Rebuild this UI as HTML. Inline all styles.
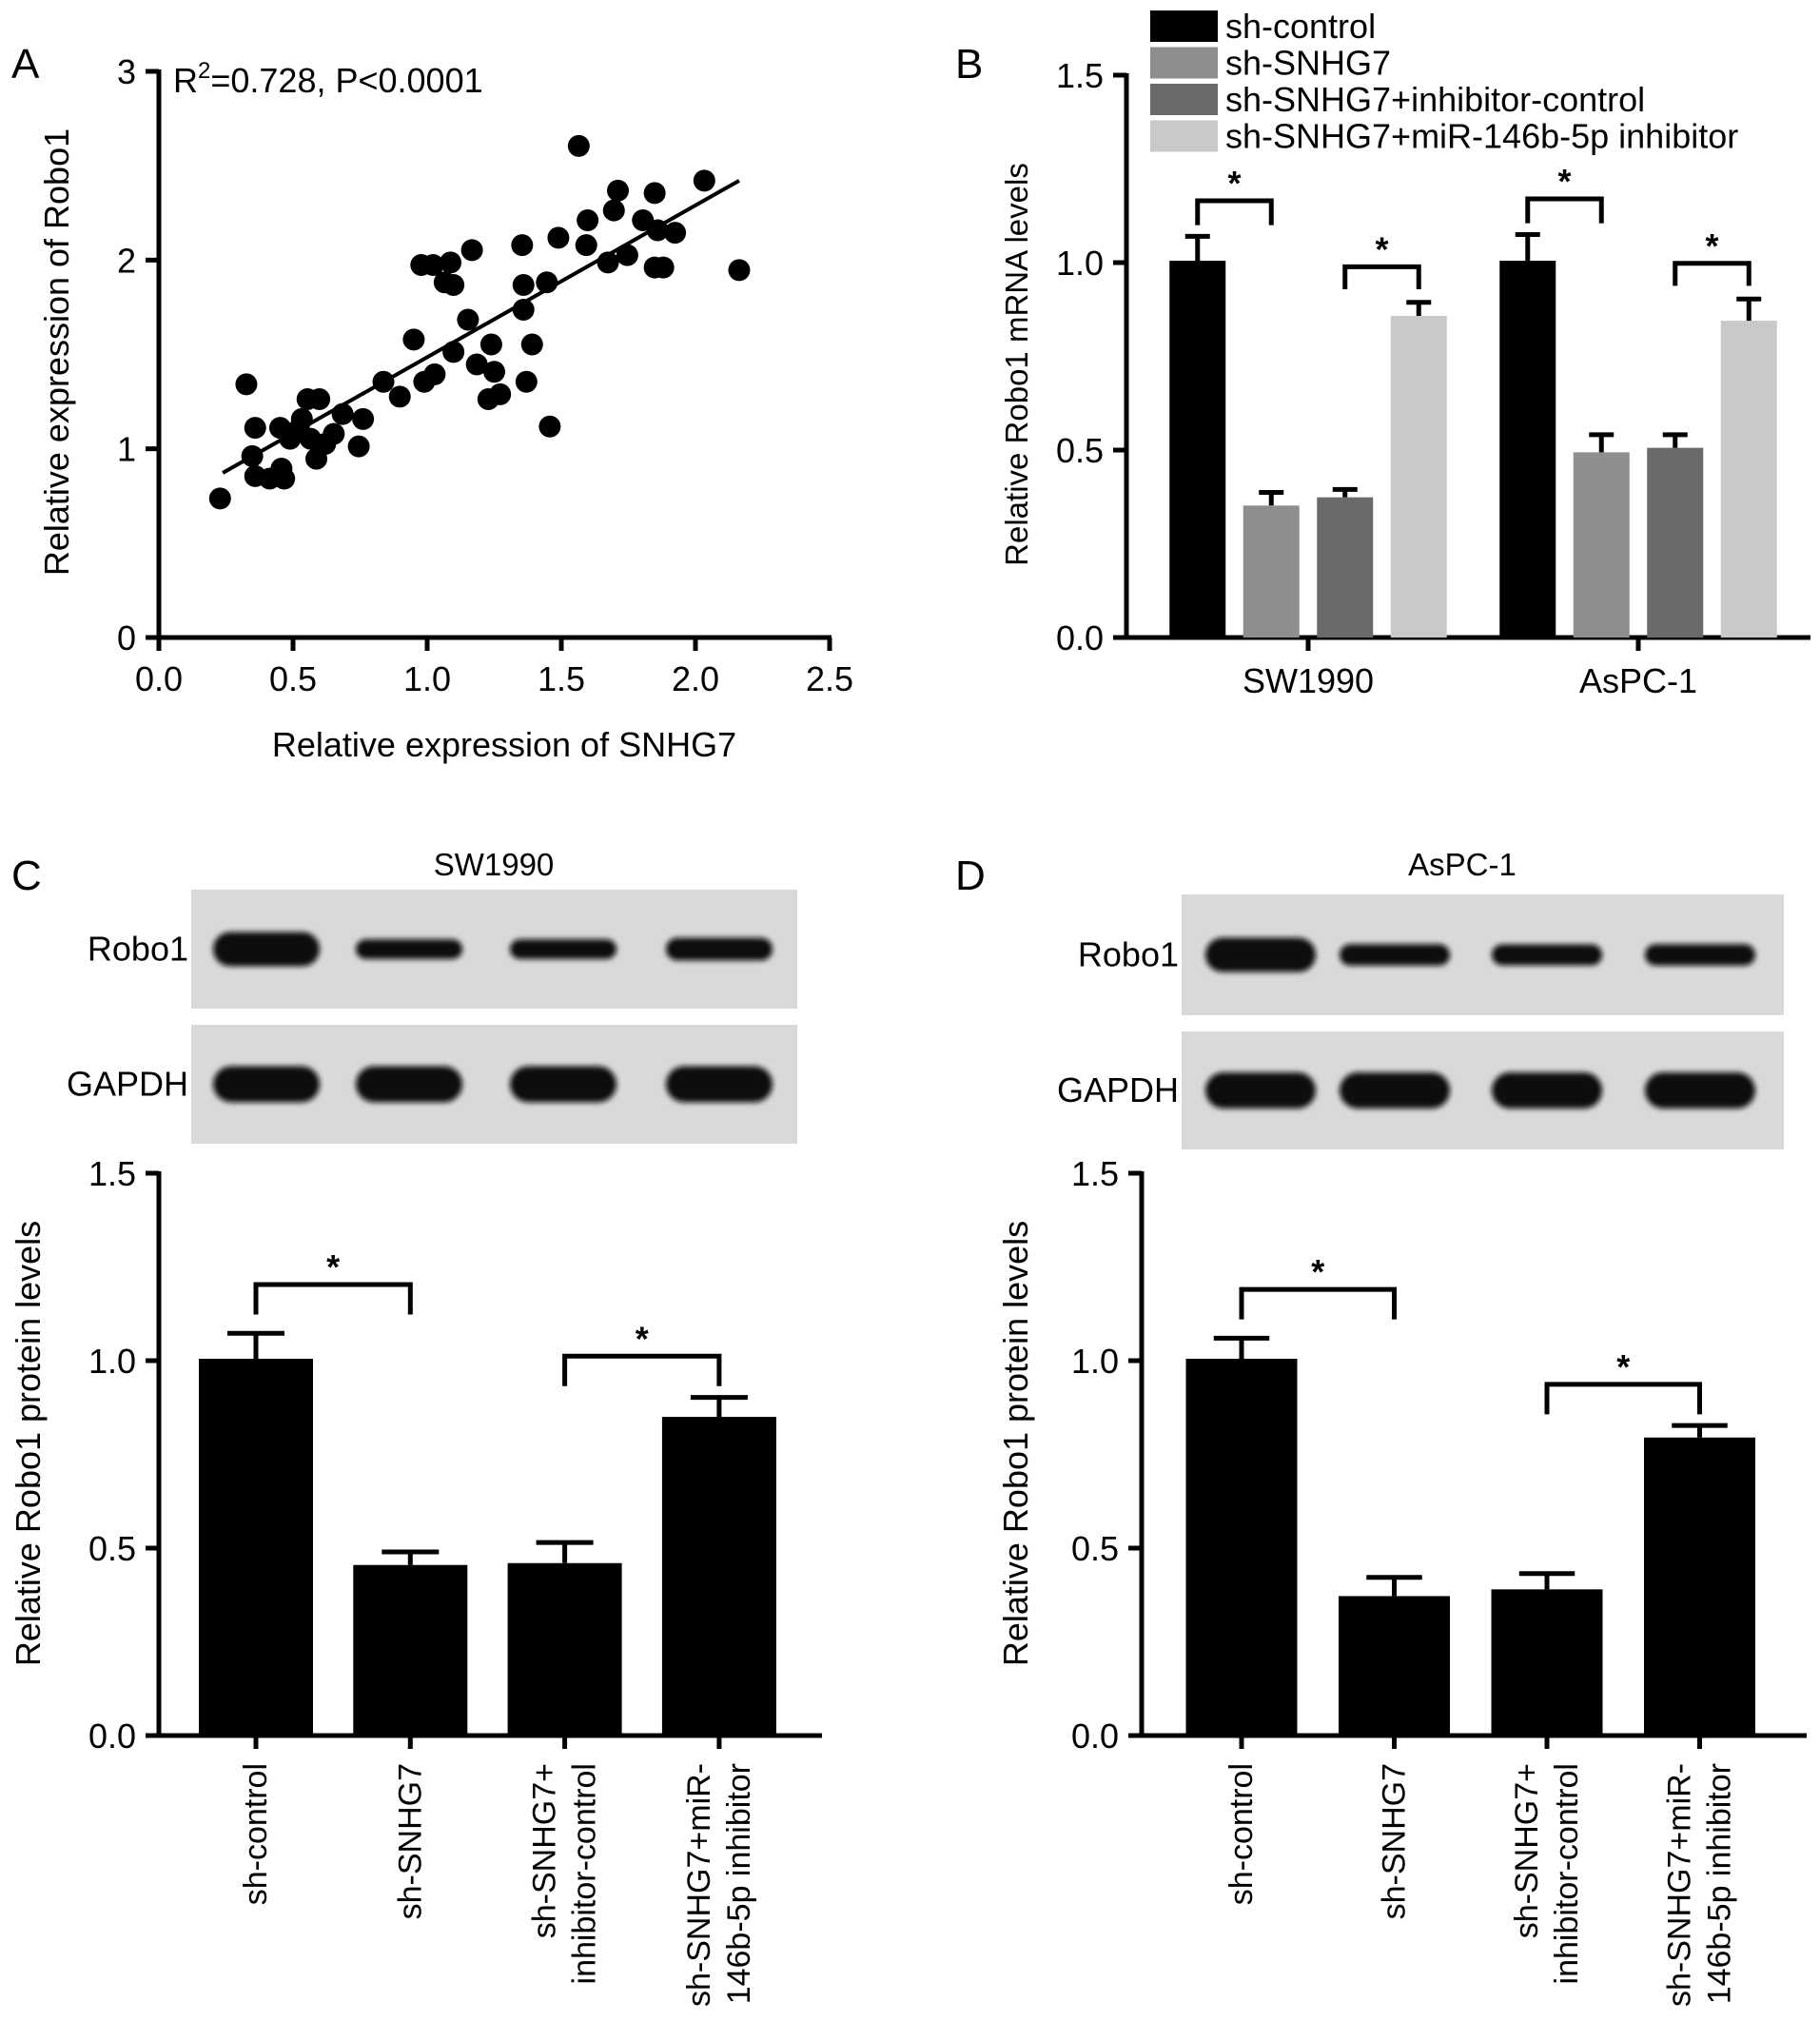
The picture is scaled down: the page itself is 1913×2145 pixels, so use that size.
<!DOCTYPE html>
<html><head><meta charset="utf-8"><style>
html,body{margin:0;padding:0;background:#fff;}
svg{display:block;font-family:"Liberation Sans",Arial,sans-serif;}
</style></head><body>
<svg id="fig" width="1913" height="2145" viewBox="0 0 1913 2145" xmlns="http://www.w3.org/2000/svg">
<defs>
<filter id="blur" x="-20%" y="-50%" width="140%" height="200%"><feGaussianBlur stdDeviation="3"/></filter>
</defs>
<g id="root"></g>
</svg>
<script>
// ---------- Panel A data ----------
const scatterX = [0.228,0.326,0.359,0.348,0.359,0.413,0.467,0.457,0.452,0.489,0.522,0.533,0.554,0.598,0.565,0.587,0.620,0.652,0.685,0.745,0.761,0.837,0.898,0.950,0.978,1.022,0.989,1.028,1.087,1.065,1.098,1.098,1.152,1.167,1.185,1.228,1.250,1.239,1.272,1.354,1.359,1.359,1.370,1.391,1.446,1.457,1.489,1.565,1.598,1.593,1.674,1.696,1.711,1.746,1.804,1.848,1.859,1.848,1.880,1.924,2.033,2.163];
const scatterY = [0.737,1.342,1.111,0.961,0.855,0.842,0.842,0.895,1.111,1.053,1.105,1.158,1.263,1.263,1.053,0.947,1.026,1.079,1.184,1.013,1.158,1.355,1.276,1.579,1.974,1.974,1.355,1.395,1.987,1.882,1.868,1.513,1.684,2.053,1.447,1.263,1.408,1.553,1.289,2.079,1.868,1.737,1.355,1.553,1.882,1.118,2.118,2.605,2.211,2.079,1.987,2.263,2.368,2.026,2.211,2.355,2.158,1.961,1.961,2.145,2.421,1.947];
const aXTicks = [0.0,0.5,1.0,1.5,2.0,2.5];
const aXTickLabels = ["0.0","0.5","1.0","1.5","2.0","2.5"];
const aYTicks = [0,1,2,3];
const aYTickLabels = ["0","1","2","3"];

// ---------- Panel B data ----------
const bGroups = ["SW1990","AsPC-1"];
const bSeriesNames = ["sh-control","sh-SNHG7","sh-SNHG7+inhibitor-control","sh-SNHG7+miR-146b-5p inhibitor"];
const bControl = [1.005,1.005];
const bShSNHG7 = [0.352,0.494];
const bInhCtrl = [0.374,0.506];
const bMiRInh = [0.858,0.845];
const bControlErr = [0.065,0.07];
const bShSNHG7Err = [0.035,0.047];
const bInhCtrlErr = [0.021,0.035];
const bMiRInhErr = [0.036,0.058];
const bTicks = [0.0,0.5,1.0,1.5];
const bTickLabels = ["0.0","0.5","1.0","1.5"];

// ---------- Panel C data ----------
const protCategories = [["sh-control"],["sh-SNHG7"],["sh-SNHG7+","inhibitor-control"],["sh-SNHG7+miR-","146b-5p inhibitor"]];
const cValues = [1.005,0.455,0.46,0.85];
const cErrors = [0.068,0.035,0.055,0.052];
const cBlotRobo = [1.0,0.55,0.55,0.8];
// ---------- Panel D data ----------
const dValues = [1.005,0.372,0.39,0.795];
const dErrors = [0.055,0.05,0.042,0.032];
const dBlotRobo = [1.0,0.7,0.65,0.7];
const protTicks = [0.0,0.5,1.0,1.5];
const protTickLabels = ["0.0","0.5","1.0","1.5"];

const NS="http://www.w3.org/2000/svg";
const root=document.getElementById('root');
const FS=36;
function mk(tag,attrs,parent){const e=document.createElementNS(NS,tag);for(const k in attrs)e.setAttribute(k,attrs[k]);(parent||root).appendChild(e);return e;}
function txt(s,attrs,parent){const e=mk('text',attrs,parent);e.textContent=s;return e;}

// ---------- Panel A ----------
(function(){
  const g=mk('g',{});
  
  
  const x0=167,x1=872,y0=670,y1=75;
  const sx=v=>x0+(v-0)/(2.5)*(x1-x0);
  const sy=v=>y0-(v-0)/3*(y0-y1);
  const pl=txt('A',{x:12,y:82,'font-size':44},g);
  
  const ya=mk('line',{x1:x0,y1:y1-2,x2:x0,y2:y0+2,stroke:'#000','stroke-width':5},g);
  
  const xa=mk('line',{x1:x0-2,y1:y0,x2:x1+2,y2:y0,stroke:'#000','stroke-width':5},g);
  
  aYTicks.forEach((t,i)=>{
    mk('line',{x1:x0-14,y1:sy(t),x2:x0,y2:sy(t),stroke:'#000','stroke-width':5},g);
    const l=txt(aYTickLabels[i],{x:x0-24,y:sy(t)+13,'font-size':FS,'text-anchor':'end'},g);
    
  });
  aXTicks.forEach((t,i)=>{
    mk('line',{x1:sx(t),y1:y0,x2:sx(t),y2:y0+14,stroke:'#000','stroke-width':5},g);
    const l=txt(aXTickLabels[i],{x:sx(t),y:y0+56,'font-size':FS,'text-anchor':'middle'},g);
    
  });
  const xt=txt('Relative expression of SNHG7',{x:530,y:795,'font-size':FS,'text-anchor':'middle'},g);
  
  const yt=txt('Relative expression of Robo1',{x:0,y:0,'font-size':FS,'text-anchor':'middle',transform:'translate(72,370) rotate(-90)'},g);
  
  const st=mk('text',{x:182,y:97,'font-size':FS},g);
  
  st.innerHTML='R<tspan dy="-15" font-size="24">2</tspan><tspan dy="15">=0.728, P&lt;0.0001</tspan>';
  scatterX.forEach((v,i)=>{
    const c=mk('circle',{cx:sx(v),cy:sy(scatterY[i]),r:11.5,fill:'#000'},g);
    
  });
  const n=scatterX.length;let mx=0,my=0;scatterX.forEach((v,i)=>{mx+=v;my+=scatterY[i];});mx/=n;my/=n;
  let sxy=0,sxx=0;scatterX.forEach((v,i)=>{sxy+=(v-mx)*(scatterY[i]-my);sxx+=(v-mx)*(v-mx);});
  const b=sxy/sxx,a=my-b*mx;const lo=Math.min(...scatterX)+0.01,hi=Math.max(...scatterX);
  const rl=mk('line',{x1:sx(lo),y1:sy(a+b*lo),x2:sx(hi),y2:sy(a+b*hi),stroke:'#000','stroke-width':4},g);
  
})();

function drawBarAxes(g,x0,x1,y0,y1,ymax,ticks,labels){
  const sy=v=>y0-v/ymax*(y0-y1);
  const ya=mk('line',{x1:x0,y1:y1-2,x2:x0,y2:y0+2,stroke:'#000','stroke-width':5},g);
  
  const xa=mk('line',{x1:x0-2,y1:y0,x2:x1,y2:y0,stroke:'#000','stroke-width':5},g);
  
  ticks.forEach((t,i)=>{
    mk('line',{x1:x0-14,y1:sy(t),x2:x0,y2:sy(t),stroke:'#000','stroke-width':5},g);
    const l=txt(labels[i],{x:x0-24,y:sy(t)+13,'font-size':FS,'text-anchor':'end'},g);
    
  });
  return sy;
}
function bracket(g,sy,xa,xb,ytop,dropA,dropB){
  const p=mk('polyline',{points:`${xa},${sy(dropA)} ${xa},${sy(ytop)} ${xb},${sy(ytop)} ${xb},${sy(dropB)}`,fill:'none',stroke:'#000','stroke-width':5},g);
  
  const s=txt('*',{x:(xa+xb)/2,y:sy(ytop)-6,'font-size':36,'text-anchor':'middle','font-weight':'bold'},g);
  
}
function errBar(g,cx,top,errTop,capW){
  const e=mk('path',{d:`M${cx},${top} V${errTop} M${cx-capW/2},${errTop} H${cx+capW/2}`,stroke:'#000','stroke-width':5,fill:'none'},g);
  
}

// ---------- Panel B ----------
(function(){
  const g=mk('g',{});
  
  
  const x0=1184,x1=1903,y0=670,y1=79;
  const pl=txt('B',{x:1004,y:82,'font-size':44},g);
  
  const sy=drawBarAxes(g,x0,x1,y0,y1,1.5,bTicks,bTickLabels);
  const series=[bControl,bShSNHG7,bInhCtrl,bMiRInh];
  const errs=[bControlErr,bShSNHG7Err,bInhCtrlErr,bMiRInhErr];
  const colors=['#000','#8e8e8e','#6a6a6a','#c9c9c9'];
  const groupCenters=[1375,1722];
  const barW=59,step=77.5;
  bGroups.forEach((gn,gi)=>{
    const gc=groupCenters[gi];
    mk('line',{x1:gc,y1:y0,x2:gc,y2:y0+14,stroke:'#000','stroke-width':5},g);
    const l=txt(gn,{x:gc,y:y0+58,'font-size':FS,'text-anchor':'middle'},g);
    
    const cxs=[];
    series.forEach((s,si)=>{
      const cx=gc+(si-1.5)*step;cxs.push(cx);
      const r=mk('rect',{x:cx-barW/2,y:sy(s[gi]),width:barW,height:y0-sy(s[gi]),fill:colors[si]},g);
      
      errBar(g,cx,sy(s[gi]),sy(s[gi]+errs[si][gi]),26);
    });
    const t1=bControl[gi]+bControlErr[gi]+0.095;
    bracket(g,sy,cxs[0],cxs[1],t1,t1-0.065,t1-0.065);
    const t2=bMiRInh[gi]+bMiRInhErr[gi]+0.095;
    bracket(g,sy,cxs[2],cxs[3],t2,t2-0.06,t2-0.06);
  });
  bSeriesNames.forEach((nm,i)=>{
    const y=11+i*38.5;
    const r=mk('rect',{x:1209,y:y,width:71,height:33,fill:colors[i]},g);
    
    const t=txt(nm,{x:1288,y:y+29,'font-size':FS},g);
    
  });
  const yt=txt('Relative Robo1 mRNA levels',{x:0,y:0,'font-size':33,'text-anchor':'middle',transform:'translate(1080,383) rotate(-90)'},g);
  
})();

// ---------- Panels C & D ----------
function proteinPanel(cfg){
  const g=mk('g',{});
  
  
  const pl=txt(cfg.letter,{x:cfg.letterX,y:935,'font-size':44},g);
  
  const tt=txt(cfg.title,{x:cfg.titleX,y:920,'font-size':33,'text-anchor':'middle'},g);
  
  const blots=[{label:'Robo1',y:cfg.roboY,h:cfg.roboH,sizes:cfg.robo,base:20,extra:16},{label:'GAPDH',y:cfg.gapY,h:cfg.gapH,sizes:[1,1,1,1],base:38,extra:0}];
  blots.forEach(b=>{
    const bg=mk('rect',{x:cfg.blotX0,y:b.y,width:cfg.blotX1-cfg.blotX0,height:b.h,fill:'#d9d9d9'},g);
    
    const lb=txt(b.label,{x:cfg.blotX0-3,y:b.y+b.h/2+12,'font-size':FS,'text-anchor':'end'},g);
    
    b.sizes.forEach((s,i)=>{
      const cx=cfg.bandX[i];const h=b.base+b.extra*(s-0.5)*2*(s>0.9?1:0.4);const w=cfg.bandW;
      const band=mk('rect',{x:cx-w/2,y:b.y+b.h/2-h/2,width:w,height:h,rx:h/2,fill:'#0a0a0a',filter:'url(#blur)'},g);
      
    });
  });
  const y0=1824,y1=1233;
  const sy=drawBarAxes(g,cfg.x0,cfg.x1,y0,y1,1.5,protTicks,protTickLabels);
  const cxs=[];
  cfg.values.forEach((v,i)=>{
    const cx=cfg.first+cfg.step*i;cxs.push(cx);
    const r=mk('rect',{x:cx-cfg.barW/2,y:sy(v),width:cfg.barW,height:y0-sy(v),fill:'#000'},g);
    
    errBar(g,cx,sy(v),sy(v+cfg.errors[i]),cfg.barW*0.5);
    mk('line',{x1:cx,y1:y0,x2:cx,y2:y0+14,stroke:'#000','stroke-width':5},g);
    const lines=protCategories[i];
    lines.forEach((ln,li)=>{
      const off=(li-(lines.length-1)/2)*42;
      const t=txt(ln,{x:0,y:0,'font-size':34,'text-anchor':'end','dominant-baseline':'central',transform:`translate(${cx+off},1853) rotate(-90)`},g);
      
    });
  });
  const t1=cfg.values[0]+cfg.errors[0]+0.13;
  bracket(g,sy,cxs[0],cxs[1],t1,t1-0.08,t1-0.08);
  const t2=cfg.values[3]+cfg.errors[3]+0.11;
  bracket(g,sy,cxs[2],cxs[3],t2,t2-0.08,t2-0.08);
  const yt=txt('Relative Robo1 protein levels',{x:0,y:0,'font-size':FS,'text-anchor':'middle',transform:`translate(${cfg.ytX},1517) rotate(-90)`},g);
  
}
proteinPanel({name:'panel-c-sw1990-protein',letter:'C',letterX:12,title:'SW1990',titleX:519,x0:167,x1:864,first:269,step:162.3,barW:120,
  values:cValues,errors:cErrors,robo:cBlotRobo,roboY:935,roboH:125,gapY:1077,gapH:125,blotX0:201,blotX1:838,
  bandX:[280,430,592,756],bandW:112,ytX:42});
proteinPanel({name:'panel-d-aspc1-protein',letter:'D',letterX:1004,title:'AsPC-1',titleX:1537,x0:1200,x1:1899,first:1305,step:160.5,barW:117,
  values:dValues,errors:dErrors,robo:dBlotRobo,roboY:940,roboH:127,gapY:1084,gapH:124,blotX0:1242,blotX1:1875,
  bandX:[1325,1466,1626,1787],bandW:116,ytX:1080});
</script>
</body></html>
